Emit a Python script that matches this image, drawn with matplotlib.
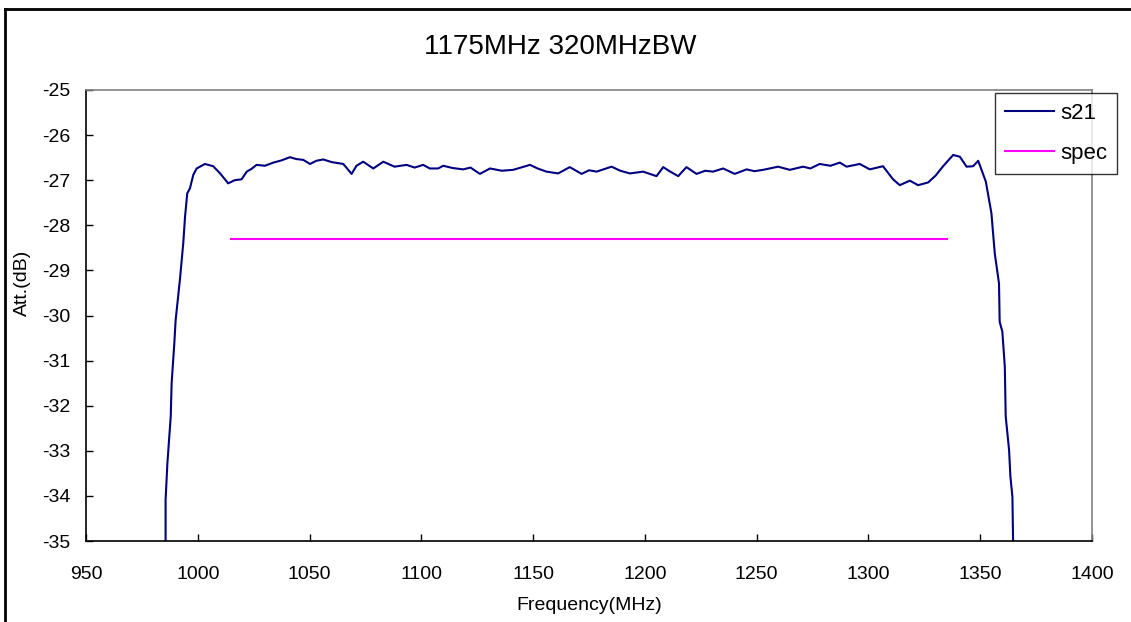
import matplotlib
matplotlib.use("Agg")
import matplotlib.pyplot as plt
from matplotlib.lines import Line2D

plt.rcParams['font.family'] = ['Liberation Sans', 'DejaVu Sans']
plt.rcParams['axes.unicode_minus'] = False

# s21 trace (MHz, dB)
freq = [985.6, 985.6, 986.4, 987.9, 988.3, 989.5, 990.1, 992.0, 993.5, 994.3,
        995.3, 996.5, 998.0, 999.5, 1003.2, 1006.9, 1010.0, 1013.6, 1016.5, 1019.6,
        1021.9, 1024.0, 1026.3, 1030.0, 1033.8, 1037.5, 1041.2, 1044.0, 1047.2, 1050.2,
        1053.0, 1056.1, 1060.0, 1065.1, 1068.8, 1071.0, 1074.0, 1078.5, 1083.0, 1088.0,
        1093.4, 1097.0, 1100.8, 1103.8, 1107.5, 1109.8, 1114.0, 1118.7, 1122.0, 1126.2,
        1130.7, 1136.0, 1141.1, 1148.6, 1152.0, 1156.0, 1161.2, 1166.4, 1171.7, 1175.0,
        1178.4, 1185.1, 1189.0, 1193.3, 1199.2, 1205.2, 1208.2, 1211.0, 1214.9, 1218.6,
        1223.1, 1227.0, 1230.5, 1235.0, 1240.2, 1245.5, 1249.0, 1252.9, 1259.6, 1264.8,
        1270.8, 1274.0, 1278.2, 1283.0, 1287.2, 1290.2, 1296.1, 1300.6, 1306.5, 1311.0,
        1314.0, 1318.5, 1322.2, 1326.7, 1330.0, 1333.4, 1337.9, 1340.9, 1343.9, 1346.8,
        1349.1, 1352.5, 1355.0, 1356.5, 1358.4, 1358.7, 1359.9, 1361.0, 1361.4,
        1362.9, 1363.5, 1364.4, 1364.7]
s21 = [-35.0, -34.09, -33.28, -32.24, -31.5, -30.62, -30.1, -29.21, -28.4, -27.81,
       -27.29, -27.18, -26.88, -26.74, -26.64, -26.69, -26.85, -27.07, -27.0, -26.98,
       -26.81, -26.75, -26.66, -26.68, -26.61, -26.56, -26.49, -26.53, -26.55, -26.64,
       -26.57, -26.54, -26.6, -26.64, -26.86, -26.68, -26.59, -26.74, -26.59, -26.7,
       -26.66, -26.72, -26.66, -26.74, -26.74, -26.68, -26.73, -26.76, -26.72, -26.86,
       -26.74, -26.79, -26.77, -26.66, -26.74, -26.81, -26.85, -26.71, -26.86, -26.78,
       -26.81, -26.7, -26.79, -26.85, -26.81, -26.91, -26.71, -26.8, -26.91, -26.71,
       -26.86, -26.79, -26.81, -26.74, -26.86, -26.76, -26.8, -26.77, -26.7, -26.77,
       -26.7, -26.74, -26.64, -26.68, -26.61, -26.7, -26.64, -26.76, -26.69, -26.98,
       -27.11, -27.01, -27.11, -27.05, -26.9, -26.69, -26.44, -26.48, -26.7, -26.69,
       -26.57, -27.03, -27.73, -28.62, -29.29, -30.14, -30.36, -31.14, -32.24,
       -32.98, -33.57, -34.02, -35.0]

spec_freq = [1015, 1335]
spec = [-28.3, -28.3]

xticks = [950, 1000, 1050, 1100, 1150, 1200, 1250, 1300, 1350, 1400]
yticks = [-35, -34, -33, -32, -31, -30, -29, -28, -27, -26, -25]

W, H = 1131, 622
fig = plt.figure(figsize=(W / 100, H / 100), dpi=100)
ax = fig.add_axes([86 / W, 1 - 541 / H, (1092 - 86) / W, (541 - 90) / H])

ax.plot(freq, s21, color='#000080', lw=1.5, label='s21')
ax.plot(spec_freq, spec, color='#FF00FF', lw=1.5, label='spec')

ax.set_xlim(950, 1400)
ax.set_ylim(-35, -25)
ax.set_xticks(xticks)
ax.set_yticks(yticks)
ax.tick_params(direction='in', length=5, width=1, labelsize=14, color='black')
ax.tick_params(axis='x', pad=18)
ax.tick_params(axis='y', pad=11)

for side in ['left', 'bottom']:
    ax.spines[side].set_color('black')
    ax.spines[side].set_linewidth(1.2)
for side in ['top', 'right']:
    ax.spines[side].set_color('#808080')
    ax.spines[side].set_linewidth(1.2)

fig.text(589 / W, 1 - 605 / H, 'Frequency(MHz)', ha='center', va='center', fontsize=14)
fig.text(22 / W, 1 - 283 / H, 'Att.(dB)', ha='center', va='center', rotation=90, fontsize=14)
fig.text(560 / W, 1 - 47 / H, '1175MHz 320MHzBW', ha='center', va='center', fontsize=20)

leg = ax.legend(loc='upper left', bbox_to_anchor=(995 / W, 1 - 93 / H), bbox_transform=fig.transFigure,
                fontsize=16, frameon=True, fancybox=False, edgecolor='black',
                handlelength=2.2, handletextpad=0.27, labelspacing=0.85, borderpad=0.45,
                borderaxespad=0)
leg.get_frame().set_linewidth(1.0)

# chart area frame (top and left edges visible in the reference)
fig.add_artist(Line2D([5 / W, 5 / W], [0, 1 - 9 / H], transform=fig.transFigure,
                      color='black', lw=2))
fig.add_artist(Line2D([5 / W, 1], [1 - 9 / H, 1 - 9 / H], transform=fig.transFigure,
                      color='black', lw=2))

fig.savefig('out.png', dpi=100)
